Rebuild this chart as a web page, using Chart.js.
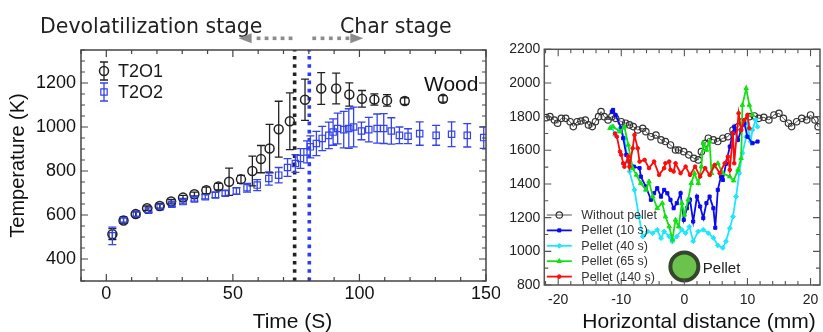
<!DOCTYPE html>
<html><head><meta charset="utf-8">
<script src="https://cdn.jsdelivr.net/npm/chart.js@4.4.1/dist/chart.umd.min.js"></script>
<style>
html,body{margin:0;padding:0;background:#fff;overflow:hidden;width:823px;height:332px;}
#w1{position:absolute;left:0;top:0;width:500px;height:332px;}
#w2{position:absolute;left:500px;top:0;width:338px;height:332px;}
</style></head><body>
<div id="w1"><canvas id="c1" width="500" height="332"></canvas></div>
<div id="w2"><canvas id="c2" width="338" height="332"></canvas></div>
<script>
// ---------------- Left panel data ----------------
const t2o1Time = [2.4, 6.8, 11.6, 16.1, 21.1, 25.6, 30.3, 34.8, 39.5, 44.3, 48.5, 53.2, 57.7, 61.1, 64.5, 68.1, 72.5, 78.5, 84.9, 90.8, 96, 101, 105.9, 110.9, 117.9, 133];
const t2o1Temp = [513, 575, 604, 631, 641, 661, 679, 694, 712, 729, 751, 762, 800, 854, 902, 990, 1026, 1124, 1175, 1175, 1148, 1128, 1125, 1121, 1118, 1128];
const t2o1Err  = [25, 12, 10, 10, 10, 10, 10, 10, 15, 15, 62, 18, 68, 62, 110, 127, 129, 94, 72, 70, 53, 38, 26, 26, 15, 15];

const t2o2Time = [2.4, 6.8, 11.9, 16.7, 21.3, 25.9, 30.3, 34.8, 39.1, 43.1, 47, 51.4, 55.6, 59.6, 64.2, 68.1, 71.6, 74.7, 76.7, 79.3, 80.6, 83, 85.3, 87.9, 89.6, 91.4, 93.8, 95.8, 97.7, 100.8, 103.7, 107, 109.6, 112.6, 115.8, 119.2, 123.8, 130.3, 136.4, 142.6, 149.1];
const t2o2Temp = [505, 578, 604, 622, 638, 649, 661, 673, 683, 691, 699, 709, 724, 736, 766, 781, 816, 834, 857, 887, 910, 925, 948, 962, 977, 993, 988, 993, 1000, 982, 988, 993, 993, 982, 962, 958, 970, 962, 967, 962, 952];
const t2o2Err  = [40, 10, 10, 10, 10, 10, 10, 10, 10, 12, 12, 15, 20, 25, 30, 35, 40, 40, 45, 50, 50, 55, 55, 60, 60, 70, 83, 90, 90, 40, 56, 66, 68, 60, 38, 34, 53, 45, 56, 53, 49];

const stageLines = [74.4, 80.2];           // end of devolatilization (T2O1, T2O2)
const leftXTicks = [0, 50, 100, 150];
const leftYTicks = [400, 600, 800, 1000, 1200];
const leftXRange = [-10, 150];
const leftYRange = [300, 1350];

// ---------------- Right panel data ----------------
const noPelletX = [-21.9,-21.3,-20.6,-20.1,-19.5,-18.8,-18.1,-17.6,-17.0,-16.4,-15.7,-15.2,-14.6,-14.1,-13.6,-13.2,-12.7,-12.1,-11.5,-10.9,-10.0,-9.3,-8.7,-8.1,-7.4,-6.6,-6.1,-5.3,-4.5,-3.7,-3.0,-2.2,-1.4,-0.9,-0.1,0.7,1.5,2.2,2.7,3.3,3.8,4.6,5.3,6.1,6.9,7.7,8.5,9.2,10.3,11.1,11.8,12.6,13.4,14.2,15.0,15.7,16.5,17.0,17.8,18.6,19.4,20.0,20.7,21.2];
const noPelletY = [1794,1800,1780,1761,1790,1790,1770,1741,1770,1774,1780,1751,1741,1770,1800,1830,1800,1780,1800,1790,1770,1761,1751,1741,1721,1731,1711,1681,1691,1662,1652,1632,1602,1602,1592,1573,1553,1543,1592,1642,1672,1662,1652,1672,1681,1721,1740,1770,1800,1804,1790,1796,1780,1810,1820,1790,1761,1741,1770,1790,1780,1810,1780,1740];

const pellet10X = [-11.5,-11.3,-10.9,-10.0,-9.7,-9.2,-8.7,-8.0,-7.1,-6.9,-6.1,-5.3,-4.8,-4.3,-3.7,-3.2,-2.7,-2.2,-1.7,-1.2,-0.6,-0.1,0.4,0.9,1.4,2.0,2.5,3.0,3.5,4.0,4.6,4.9,5.3,5.8,6.1,6.6,7.2,7.7,7.9,8.5,9.0,9.5,10.0,10.8,11.6];
const pellet10Y = [1830,1840,1810,1731,1672,1573,1533,1503,1494,1444,1385,1306,1345,1375,1325,1365,1345,1306,1256,1286,1345,1187,1256,1306,1177,1325,1266,1197,1286,1325,1256,1140,1365,1444,1424,1520,1622,1701,1740,1662,1721,1760,1681,1642,1652];

const pellet40X = [-11.5,-11.0,-10.2,-9.5,-8.7,-7.9,-7.2,-6.6,-5.8,-5.0,-4.3,-3.7,-3.2,-2.4,-1.9,-1.2,-0.4,0.2,0.8,1.4,2.2,3.0,3.8,4.6,5.3,6.1,6.6,7.2,7.7,8.2,8.7,9.2,9.8,10.0,10.5,10.8,11.3,11.6];
const pellet40Y = [1740,1691,1731,1672,1474,1365,1206,1088,1118,1108,1128,1078,1118,1088,1058,1088,1128,1108,1147,1060,1118,1128,1108,1080,1035,1020,1060,1137,1206,1325,1464,1583,1680,1760,1652,1721,1780,1740];

const pellet65X = [-11.8,-11.3,-10.2,-9.5,-8.9,-8.2,-7.6,-6.9,-6.1,-5.6,-5.0,-4.3,-3.5,-3.0,-2.4,-1.9,-1.4,-0.9,-0.4,0.0,0.6,1.1,1.6,2.2,2.7,3.0,3.5,4.0,4.3,4.6,5.3,6.1,7.2,7.8,8.5,9.0,9.2,9.8,10.3,10.8];
const pellet65Y = [1731,1740,1711,1740,1632,1494,1454,1405,1365,1414,1325,1256,1286,1206,1147,1070,1187,1147,1286,1217,1306,1405,1464,1405,1503,1642,1602,1652,1464,1503,1523,1464,1444,1420,1484,1553,1869,1968,1869,1810];

const pellet140X = [-11.0,-10.7,-10.2,-10.0,-9.7,-9.5,-8.9,-8.7,-8.2,-7.9,-7.4,-7.1,-6.3,-5.6,-4.8,-4.0,-3.2,-3.0,-2.4,-2.2,-1.7,-1.4,-0.6,0.2,0.9,1.7,2.5,3.3,4.0,4.8,5.6,6.4,6.9,7.2,7.7,7.9,8.6,9.0,9.5,10.0,10.3];
const pellet140Y = [1700,1681,1592,1573,1523,1503,1563,1503,1612,1691,1612,1533,1543,1494,1533,1454,1494,1523,1533,1484,1474,1523,1464,1503,1454,1503,1444,1494,1454,1513,1464,1523,1563,1484,1701,1523,1820,1721,1780,1810,1731];

const pelletMarker = [0, 910];
const rightXTicks = [-20, -10, 0, 10, 20];
const rightYTicks = [800, 1000, 1200, 1400, 1600, 1800, 2000, 2200];
const rightXRange = [-22.2, 21.5];
const rightYRange = [800, 2200];

// ---------------- helpers ----------------
const SANS = '"Liberation Sans", Arial, sans-serif';
const DJV = '"DejaVu Sans", Verdana, sans-serif';
Chart.defaults.font.family = SANS;
const toXY = (xs, ys) => xs.map((x, i) => ({x: x, y: ys[i]}));
const fixTicks = arr => (s => { s.ticks = arr.map(v => ({value: v})); });
const fitX = h => (s => { s.height = h; s.paddingLeft = 0; s.paddingRight = 0; });
const fitY = w => (s => { s.width = w; s.paddingTop = 0; s.paddingBottom = 0; });

function tickMarks(ctx, a, xs, ys, xMinor, xStep, yMinor, yStep, xMaj, yMaj) {
  ctx.beginPath();
  for (let v = xMinor[0]; v <= xMinor[1] + 1e-9; v += xStep) {
    const vv = Math.round(v * 100) / 100;
    const p = xs.getPixelForValue(vv);
    if (p < a.left - 0.5 || p > a.right + 0.5) continue;
    const L = xMaj.includes(vv) ? 7 : 4;
    ctx.moveTo(p, a.bottom); ctx.lineTo(p, a.bottom - L);
    ctx.moveTo(p, a.top); ctx.lineTo(p, a.top + L);
  }
  for (let v = yMinor[0]; v <= yMinor[1] + 1e-9; v += yStep) {
    const p = ys.getPixelForValue(v);
    if (p < a.top - 0.5 || p > a.bottom + 0.5) continue;
    const L = yMaj.includes(v) ? 7 : 4;
    ctx.moveTo(a.left, p); ctx.lineTo(a.left + L, p);
    ctx.moveTo(a.right, p); ctx.lineTo(a.right - L, p);
  }
  ctx.stroke();
}

// ---------------- Left chart ----------------
const leftDecor = {
  id: 'leftDecor',
  afterDatasetsDraw(chart) {
    const {ctx, chartArea: a, scales: {x, y}} = chart;
    ctx.save();
    ctx.beginPath(); ctx.rect(a.left, a.top, a.right - a.left, a.bottom - a.top); ctx.clip();
    chart.data.datasets.forEach(ds => {
      if (!ds.errorBars) return;
      ctx.strokeStyle = ds.borderColor; ctx.lineWidth = 1.3;
      ctx.beginPath();
      ds.data.forEach((p, j) => {
        const px = x.getPixelForValue(p.x);
        const y1 = y.getPixelForValue(p.y + ds.errorBars[j]);
        const y2 = y.getPixelForValue(p.y - ds.errorBars[j]);
        ctx.moveTo(px, y1); ctx.lineTo(px, y2);
        ctx.moveTo(px - 4, y1); ctx.lineTo(px + 4, y1);
        ctx.moveTo(px - 4, y2); ctx.lineTo(px + 4, y2);
      });
      ctx.stroke();
    });
    ctx.restore();
  },
  afterDraw(chart) {
    const {ctx, chartArea: a, scales: {x, y}} = chart;
    ctx.save();
    ctx.strokeStyle = '#444'; ctx.lineWidth = 1.5;
    ctx.strokeRect(a.left, a.top, a.right - a.left, a.bottom - a.top);
    ctx.lineWidth = 1.2;
    tickMarks(ctx, a, x, y, leftXRange, 10, leftYRange, 50, leftXTicks, leftYTicks);

    // legend
    const sx = a.left + 23;
    const rows = [[chart.data.datasets[0], a.top + 21], [chart.data.datasets[1], a.top + 42]];
    rows.forEach(([ds, ry]) => {
      ctx.strokeStyle = ds.borderColor; ctx.lineWidth = 1.3;
      ctx.beginPath();
      ctx.moveTo(sx, ry - 9); ctx.lineTo(sx, ry + 9);
      ctx.moveTo(sx - 4, ry - 9); ctx.lineTo(sx + 4, ry - 9);
      ctx.moveTo(sx - 4, ry + 9); ctx.lineTo(sx + 4, ry + 9);
      ctx.stroke();
      ctx.fillStyle = 'rgba(0,0,0,0)';
      ctx.lineWidth = ds.pointBorderWidth;
      Chart.helpers.drawPoint(ctx, {pointStyle: ds.pointStyle, radius: ds.pointRadius, borderWidth: ds.pointBorderWidth, rotation: 0}, sx, ry);
      ctx.fillStyle = '#1a1a1a'; ctx.font = '18px ' + SANS;
      ctx.textAlign = 'left'; ctx.textBaseline = 'middle';
      ctx.fillText(ds.label, sx + 14, ry + 1);
    });

    // axis titles
    ctx.fillStyle = '#111';
    ctx.font = '21px ' + SANS; ctx.textAlign = 'center'; ctx.textBaseline = 'middle';
    ctx.fillText('Time (S)', 292.5, 322);
    ctx.save();
    ctx.translate(18, (a.top + a.bottom) / 2); ctx.rotate(-Math.PI / 2);
    ctx.font = '20px ' + SANS;
    ctx.fillText('Temperature (K)', 0, 0);
    ctx.restore();

    // stage annotations
    ctx.fillStyle = '#222'; ctx.font = '20.5px ' + DJV;
    ctx.textAlign = 'left'; ctx.textBaseline = 'alphabetic';
    ctx.fillText('Devolatilization stage', 40, 33);
    ctx.fillText('Char stage', 340, 33);
    const xl = x.getPixelForValue(stageLines[0]);
    const xr = x.getPixelForValue(stageLines[1]);
    const ay = 38.3;
    ctx.fillStyle = '#8c8c8c';
    for (let k = 0; k < 5; k++) ctx.fillRect(xl - 6 - k * 8, ay - 1.8, 3.8, 3.6);
    ctx.beginPath(); ctx.moveTo(xl - 56, ay); ctx.lineTo(xl - 43, ay - 5); ctx.lineTo(xl - 43, ay + 5); ctx.closePath(); ctx.fill();
    for (let k = 0; k < 5; k++) ctx.fillRect(xr + 3 + k * 8.3, ay - 1.8, 3.8, 3.6);
    ctx.beginPath(); ctx.moveTo(xr + 54, ay); ctx.lineTo(xr + 41, ay - 5); ctx.lineTo(xr + 41, ay + 5); ctx.closePath(); ctx.fill();

    ctx.fillStyle = '#111'; ctx.font = '21px ' + SANS;
    ctx.fillText('Wood', 424, 91);
    ctx.restore();
  }
};

new Chart(document.getElementById('c1'), {
  type: 'line',
  data: {
    datasets: [
      {label: 'T2O1', data: toXY(t2o1Time, t2o1Temp), errorBars: t2o1Err, showLine: false,
       pointStyle: 'circle', pointRadius: 4.5, borderColor: '#222', backgroundColor: 'rgba(0,0,0,0)',
       pointBorderWidth: 1.5, order: 1},
      {label: 'T2O2', data: toXY(t2o2Time, t2o2Temp), errorBars: t2o2Err, showLine: false,
       pointStyle: 'rect', pointRadius: 4.5, borderColor: '#3343ee', backgroundColor: 'rgba(0,0,0,0)',
       pointBorderWidth: 1.2, order: 2},
      {label: 'end T2O1', data: [{x: stageLines[0], y: leftYRange[0]}, {x: stageLines[0], y: leftYRange[1]}],
       borderColor: '#222', borderWidth: 3.6, borderDash: [3.6, 4.6], pointRadius: 0, order: 3},
      {label: 'end T2O2', data: [{x: stageLines[1], y: leftYRange[0]}, {x: stageLines[1], y: leftYRange[1]}],
       borderColor: '#2b3bff', borderWidth: 3.6, borderDash: [3.6, 4.6], pointRadius: 0, order: 4}
    ]
  },
  options: {
    responsive: false, animation: false, devicePixelRatio: 1, events: [],
    layout: {padding: {left: 0, right: 14, top: 50, bottom: 0}},
    plugins: {legend: {display: false}, tooltip: {enabled: false}},
    scales: {
      x: {type: 'linear', min: leftXRange[0], max: leftXRange[1],
          afterBuildTicks: fixTicks(leftXTicks), afterFit: fitX(51),
          grid: {display: false, drawTicks: false}, border: {display: false},
          ticks: {font: {size: 18, family: SANS}, color: '#111', padding: 2, maxRotation: 0, callback: v => String(v)}},
      y: {type: 'linear', min: leftYRange[0], max: leftYRange[1],
          afterBuildTicks: fixTicks(leftYTicks), afterFit: fitY(81),
          grid: {display: false, drawTicks: false}, border: {display: false},
          ticks: {font: {size: 18, family: SANS}, color: '#111', padding: 5, callback: v => String(v)}}
    }
  },
  plugins: [leftDecor]
});

// ---------------- Right chart ----------------
const rightDecor = {
  id: 'rightDecor',
  afterDraw(chart) {
    const {ctx, chartArea: a, scales: {x, y}} = chart;
    ctx.save();
    ctx.strokeStyle = '#555'; ctx.lineWidth = 1.5;
    ctx.strokeRect(a.left, a.top, a.right - a.left, a.bottom - a.top);
    ctx.lineWidth = 1.1;
    tickMarks(ctx, a, x, y, [-22, 22], 2, rightYRange, 100, rightXTicks, rightYTicks);

    // legend
    const ds = chart.data.datasets.slice(0, 5);
    ds.forEach((d, i) => {
      const ry = 215 + i * 15.4;
      ctx.strokeStyle = d.borderColor; ctx.lineWidth = d.borderWidth;
      ctx.beginPath(); ctx.moveTo(a.left + 2.5, ry); ctx.lineTo(a.left + 27.5, ry); ctx.stroke();
      ctx.fillStyle = d.pointBackgroundColor; ctx.strokeStyle = d.pointBorderColor || d.borderColor;
      ctx.lineWidth = d.pointBorderWidth;
      Chart.helpers.drawPoint(ctx, {pointStyle: d.pointStyle, radius: d.pointRadius, borderWidth: d.pointBorderWidth, rotation: 0}, a.left + 15, ry);
      ctx.fillStyle = '#333'; ctx.font = '12.5px ' + SANS;
      ctx.textAlign = 'left'; ctx.textBaseline = 'middle';
      ctx.fillText(d.label, a.left + 37, ry + 0.5);
    });

    // pellet label
    ctx.fillStyle = '#222'; ctx.font = '15px ' + SANS;
    ctx.textAlign = 'left'; ctx.textBaseline = 'middle';
    ctx.fillText('Pellet', x.getPixelForValue(pelletMarker[0]) + 18.5, y.getPixelForValue(pelletMarker[1]) + 2.5);

    // axis title
    ctx.fillStyle = '#111'; ctx.font = '21px ' + SANS; ctx.textAlign = 'center';
    ctx.fillText('Horizontal distance (mm)', 199, 322);
    ctx.restore();
  }
};

new Chart(document.getElementById('c2'), {
  type: 'line',
  data: {
    datasets: [
      {label: 'Without pellet', data: toXY(noPelletX, noPelletY), borderColor: '#555', borderWidth: 1,
       pointStyle: 'circle', pointRadius: 3.2, pointBorderColor: '#333', pointBackgroundColor: 'rgba(255,255,255,0)',
       pointBorderWidth: 1.2, tension: 0, order: 5},
      {label: 'Pellet (10 s)', data: toXY(pellet10X, pellet10Y), borderColor: '#0a0af2', borderWidth: 1.8,
       pointStyle: 'rect', pointRadius: 2.2, pointBorderColor: '#0a0af2', pointBackgroundColor: '#0a0af2',
       pointBorderWidth: 1, tension: 0, order: 3},
      {label: 'Pellet (40 s)', data: toXY(pellet40X, pellet40Y), borderColor: '#1ee6ff', borderWidth: 1.8,
       pointStyle: 'rectRot', pointRadius: 2.4, pointBorderColor: '#1ee6ff', pointBackgroundColor: '#1ee6ff',
       pointBorderWidth: 1, tension: 0, order: 4},
      {label: 'Pellet (65 s)', data: toXY(pellet65X, pellet65Y), borderColor: '#14e014', borderWidth: 1.8,
       pointStyle: 'triangle', pointRadius: 2.6, pointBorderColor: '#14e014', pointBackgroundColor: '#14e014',
       pointBorderWidth: 1, tension: 0, order: 2},
      {label: 'Pellet (140 s)', data: toXY(pellet140X, pellet140Y), borderColor: '#ff0a0a', borderWidth: 1.8,
       pointStyle: 'circle', pointRadius: 1.8, pointBorderColor: '#ff0a0a', pointBackgroundColor: '#ff0a0a',
       pointBorderWidth: 1, tension: 0, order: 1},
      {type: 'bubble', label: 'Pellet', data: [{x: pelletMarker[0], y: pelletMarker[1], r: 14}],
       backgroundColor: '#6cc34c', borderColor: '#34462c', borderWidth: 4, order: 0}
    ]
  },
  options: {
    responsive: false, animation: false, devicePixelRatio: 1, events: [],
    layout: {padding: {left: 0, right: 15.4, top: 49.3, bottom: 0}},
    plugins: {legend: {display: false}, tooltip: {enabled: false}},
    scales: {
      x: {type: 'linear', min: rightXRange[0], max: rightXRange[1],
          afterBuildTicks: fixTicks(rightXTicks), afterFit: fitX(47),
          grid: {display: false, drawTicks: false}, border: {display: false},
          ticks: {font: {size: 14, family: SANS}, color: '#222', padding: 7, maxRotation: 0, callback: v => String(v)}},
      y: {type: 'linear', min: rightYRange[0], max: rightYRange[1],
          afterBuildTicks: fixTicks(rightYTicks), afterFit: fitY(44.3),
          grid: {display: false, drawTicks: false}, border: {display: false},
          ticks: {font: {size: 14, family: SANS}, color: '#222', padding: 4, callback: v => String(v)}}
    }
  },
  plugins: [rightDecor]
});
</script>
</body></html>
